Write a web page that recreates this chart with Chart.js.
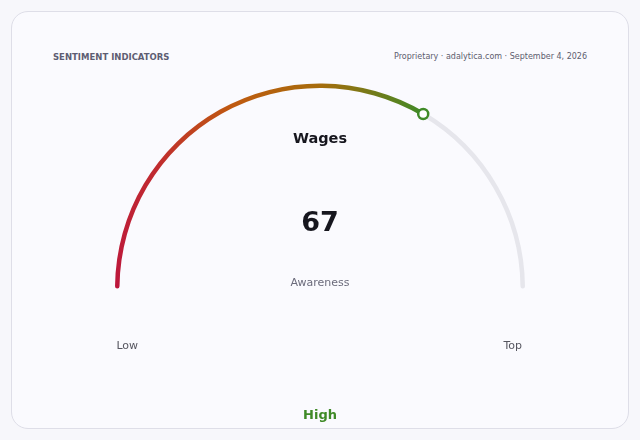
<!DOCTYPE html>
<html>
<head>
<meta charset="utf-8">
<script src="https://cdn.jsdelivr.net/npm/chart.js@4.4.1/dist/chart.umd.min.js"></script>
<style>
  html, body { margin: 0; padding: 0; background: #f7f7fb; }
  body { width: 640px; height: 440px; position: relative; overflow: hidden; font-family: "DejaVu Sans", sans-serif; }
  .card { position: absolute; left: 11px; top: 11px; width: 616px; height: 416px; border: 1px solid #dedee8; border-radius: 17px; background: #fafafe; }
  .head-left { position: absolute; left: 53px; top: 52px; font-size: 8.5px; font-weight: bold; color: #5d5d72; }
  .head-right { position: absolute; right: 53px; top: 52px; font-size: 8px; color: #5d5d6e; }
  canvas { position: absolute; left: 0; top: 0; }
</style>
</head>
<body>
<div class="card"></div>
<div class="head-left">SENTIMENT INDICATORS</div>
<div class="head-right">Proprietary · adalytica.com · September 4, 2026</div>
<canvas id="gauge" width="640" height="440"></canvas>
<script>
const gaugeTitle = "Wages";
const gaugeLabel = "Awareness";
const gaugeValue = 67;
const gaugeMin = 0;
const gaugeMax = 100;
const endLabels = ["Low", "Top"];
const bandLabel = "High";

const trackColor = "#e6e6ec";
const markColor = "#3f8a27";

// stops along the half circle, 0 = left end, 1 = right end
const gradStops = [
	[0, "#bc163c"],
	[0.2, "#c02a30"],
	[0.36, "#bf5a10"],
	[0.5, "#a66c0c"],
	[0.67, "#3f8a27"],
	[1, "#3f8a27"],
];

function arcGradient(c) {
	const a = c.chart.chartArea;
	if (!a) return gradStops[0][1];
	const w = a.right - a.left;
	const h = a.bottom - a.top;
	const r = Math.min(w, 2 * h) / 2;
	const cx = a.left + w / 2;
	const cy = a.top + h / 2 + 0.5 * r;
	const g = c.chart.ctx.createConicGradient(Math.PI, cx, cy);
	gradStops.forEach(s => g.addColorStop(s[0] * 0.5, s[1]));
	return g;
}

const gaugeText = {
	id: "gaugeText",
	afterDatasetsDraw(chart) {
		const arc = chart.getDatasetMeta(0).data[0];
		const ctx = chart.ctx;
		const cx = arc.x, cy = arc.y;
		const rMid = (arc.outerRadius + arc.innerRadius) / 2;

		// marker at the end of the value arc
		const ang = arc.endAngle;
		ctx.save();
		ctx.beginPath();
		ctx.arc(cx + rMid * Math.cos(ang), cy + rMid * Math.sin(ang), 5, 0, Math.PI * 2);
		ctx.fillStyle = "#ffffff";
		ctx.fill();
		ctx.lineWidth = 2.5;
		ctx.strokeStyle = markColor;
		ctx.stroke();

		ctx.textAlign = "center";
		ctx.textBaseline = "middle";
		ctx.fillStyle = "#16161e";
		ctx.font = "bold 14.5px 'DejaVu Sans'";
		ctx.fillText(gaugeTitle, cx, cy - 149);
		ctx.font = "bold 27px 'DejaVu Sans'";
		ctx.fillText(String(gaugeValue), cx, cy - 65);
		ctx.fillStyle = "#6b6b7b";
		ctx.font = "11px 'DejaVu Sans'";
		ctx.fillText(gaugeLabel, cx, cy - 5);

		ctx.fillStyle = "#55555f";
		ctx.font = "11px 'DejaVu Sans'";
		ctx.fillText(endLabels[0], cx - rMid + 10, cy + 58);
		ctx.fillText(endLabels[1], cx + rMid - 10, cy + 58);

		ctx.fillStyle = markColor;
		ctx.font = "bold 13px 'DejaVu Sans'";
		ctx.fillText(bandLabel, cx, cy + 127);
		ctx.restore();
	}
};

new Chart(document.getElementById("gauge"), {
	type: "doughnut",
	data: {
		labels: [gaugeLabel, ""],
		datasets: [{
			data: [gaugeValue - gaugeMin, gaugeMax - gaugeValue],
			backgroundColor: c => c.dataIndex === 0 ? arcGradient(c) : trackColor,
			borderWidth: 0,
			borderRadius: c => c.dataIndex === 0
				? { outerStart: 2.25, innerStart: 2.25, outerEnd: 0, innerEnd: 0 }
				: { outerStart: 0, innerStart: 0, outerEnd: 2.25, innerEnd: 2.25 },
		}],
	},
	options: {
		responsive: false,
		animation: false,
		rotation: -90,
		circumference: 180,
		cutout: "97.8%",
		layout: { padding: { left: 115, right: 115, top: 83, bottom: 151 } },
		plugins: {
			legend: { display: false },
			tooltip: { enabled: false },
		},
	},
	plugins: [gaugeText],
});
</script>
</body>
</html>
